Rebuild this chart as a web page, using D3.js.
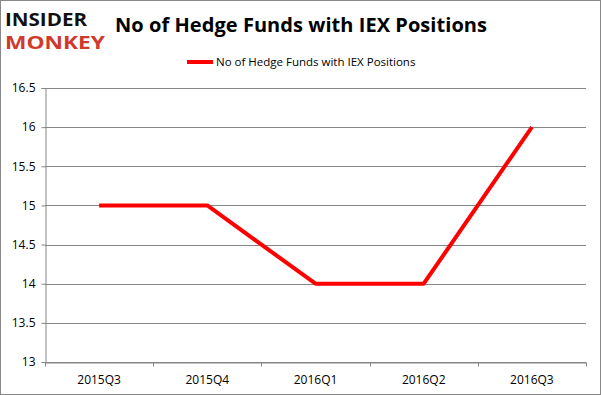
<!DOCTYPE html>
<html>
<head>
<meta charset="utf-8">
<script src="https://cdn.jsdelivr.net/npm/d3@7"></script>
<style>
  body { margin: 0; background: #fff; }
  svg { display: block; }
  text { font-family: "Open Sans", "Noto Sans", sans-serif; }
</style>
</head>
<body>
<svg width="601" height="395"></svg>
<script>
// chart data
const quarters = ["2015Q3", "2015Q4", "2016Q1", "2016Q2", "2016Q3"]
const fundCounts = [15, 15, 14, 14, 16]
const yTicks = [13, 13.5, 14, 14.5, 15, 15.5, 16, 16.5]
const seriesName = "No of Hedge Funds with IEX Positions"

const svg = d3.select("svg"),
    width = +svg.attr("width"),
    height = +svg.attr("height")

// outer frame
svg.append("rect")
    .attr("x", 0.5).attr("y", 0.5)
    .attr("width", width - 1).attr("height", height - 1)
    .attr("fill", "#fff").attr("stroke", "#888")

const margin = {left: 45, right: 15, top: 88, bottom: 33}

const x = d3.scaleBand()
    .domain(quarters)
    .range([margin.left, width - margin.right])

const y = d3.scaleLinear()
    .domain([13, 16.5])
    .range([height - margin.bottom, margin.top])

// horizontal grid lines
svg.append("g")
    .selectAll("line")
    .data(yTicks)
    .enter()
    .append("line")
    .attr("x1", margin.left).attr("x2", width - margin.right)
    .attr("y1", d => Math.round(y(d)) + 0.5)
    .attr("y2", d => Math.round(y(d)) + 0.5)
    .attr("stroke", "#868686")

// y axis
const yAxis = svg.append("g")
    .attr("transform", "translate(" + (margin.left + 0.5) + ",0)")
    .call(d3.axisLeft(y).tickValues(yTicks).tickSize(4).tickPadding(6).tickFormat(d3.format("")))
yAxis.select(".domain").attr("stroke", "#868686")
yAxis.selectAll(".tick line").attr("stroke", "#868686")
yAxis.selectAll(".tick text").attr("font-size", 12).attr("fill", "#000")

// x axis, ticks on band edges like excel
const xAxis = svg.append("g")
    .attr("transform", "translate(0," + (Math.round(y(13)) + 0.5) + ")")
    .call(d3.axisBottom(x).tickSize(0).tickPadding(13))
xAxis.select(".domain").attr("stroke", "#868686")
xAxis.selectAll(".tick text").attr("font-size", 12).attr("fill", "#000")
xAxis.selectAll(".edge")
    .data(quarters.concat([null]))
    .enter()
    .append("line")
    .attr("class", "edge")
    .attr("x1", (d, i) => Math.round(margin.left + i * x.bandwidth()) + 0.5)
    .attr("x2", (d, i) => Math.round(margin.left + i * x.bandwidth()) + 0.5)
    .attr("y1", 0).attr("y2", 4)
    .attr("stroke", "#868686")

// the red line
const line = d3.line()
    .x((d, i) => x(quarters[i]) + x.bandwidth() / 2)
    .y(d => y(d))

svg.append("path")
    .datum(fundCounts)
    .attr("fill", "none")
    .attr("stroke", "#ff0000")
    .attr("stroke-width", 4)
    .attr("stroke-linejoin", "round")
    .attr("d", line)

// title
svg.append("text")
    .attr("x", 115).attr("y", 32)
    .attr("font-size", 20).attr("font-weight", "bold")
    .attr("textLength", 372)
    .text(seriesName)

// legend
svg.append("line")
    .attr("x1", 187).attr("x2", 213)
    .attr("y1", 62).attr("y2", 62)
    .attr("stroke", "#ff0000").attr("stroke-width", 4)
svg.append("text")
    .attr("x", 216).attr("y", 66)
    .attr("font-size", 11.5)
    .text(seriesName)

// logo, tighter font so the two words don't collide
svg.append("text")
    .attr("x", 5).attr("y", 26)
    .attr("font-family", "Liberation Sans")
    .attr("font-size", 18.5).attr("font-weight", "bold")
    .attr("textLength", 82).attr("lengthAdjust", "spacingAndGlyphs")
    .attr("fill", "#111")
    .text("INSIDER")
svg.append("text")
    .attr("x", 5).attr("y", 49)
    .attr("font-family", "Liberation Sans")
    .attr("font-size", 18.5).attr("font-weight", "bold")
    .attr("textLength", 100).attr("lengthAdjust", "spacingAndGlyphs")
    .attr("fill", "#d0392b")
    .text("MONKEY")
</script>
</body>
</html>
